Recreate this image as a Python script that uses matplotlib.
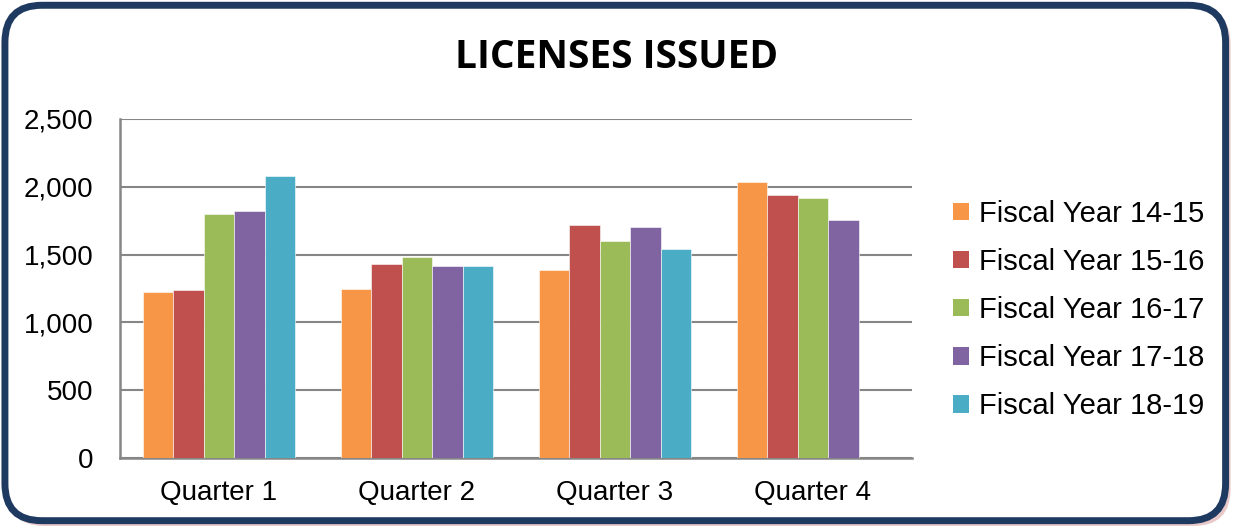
import numpy as np
import matplotlib.pyplot as plt
from matplotlib.patches import FancyBboxPatch, Patch

quarters = ["Quarter 1", "Quarter 2", "Quarter 3", "Quarter 4"]
fy1415 = [1225, 1245, 1385, 2035]
fy1516 = [1240, 1430, 1718, 1940]
fy1617 = [1800, 1482, 1600, 1918]
fy1718 = [1822, 1416, 1703, 1755]
fy1819 = [2080, 1416, 1541, np.nan]

series = ["Fiscal Year 14-15", "Fiscal Year 15-16", "Fiscal Year 16-17",
          "Fiscal Year 17-18", "Fiscal Year 18-19"]
colors = ["#F79646", "#C0504D", "#9BBB59", "#8064A2", "#4BACC6"]
values = [fy1415, fy1516, fy1617, fy1718, fy1819]

plt.rcParams['font.family'] = ['Liberation Sans', 'DejaVu Sans']

fig = plt.figure(figsize=(12.33, 5.27), dpi=100)

# rounded frame with a soft shadow
shadow = FancyBboxPatch((0.006, 0.002), 0.992, 0.984,
                        boxstyle="round,pad=0,rounding_size=0.03",
                        transform=fig.transFigure, facecolor="#E8C8C8",
                        edgecolor="none", zorder=0,
                        mutation_aspect=1233 / 527)
fig.patches.append(shadow)
frame = FancyBboxPatch((0.004, 0.012), 0.990, 0.978,
                       boxstyle="round,pad=0,rounding_size=0.03",
                       transform=fig.transFigure, facecolor="white",
                       edgecolor="#1F3A60", linewidth=5, zorder=1,
                       mutation_aspect=1233 / 527)
fig.patches.append(frame)

ax = fig.add_axes([120 / 1233, 1 - 458 / 527, (912 - 120) / 1233, (458 - 119) / 527])
ax.set_zorder(2)
ax.patch.set_alpha(0)

x = np.arange(len(quarters))
w = 0.154
for i, (name, vals, c) in enumerate(zip(series, values, colors)):
    ax.bar(x + (i - 2) * w, vals, width=w, color=c, label=name,
           edgecolor="white", linewidth=0.4, zorder=3)

ax.set_xlim(-0.5, 3.5)
ax.set_ylim(0, 2500)
ax.set_yticks(range(0, 2501, 500))
ax.set_yticklabels([f"{v:,}" for v in range(0, 2501, 500)])
ax.set_xticks(x)
ax.set_xticklabels(quarters)
ax.tick_params(axis="both", length=0, labelsize=20)
ax.tick_params(axis="y", pad=19)
ax.tick_params(axis="x", pad=16)
ax.grid(axis="y", color="#868686", linewidth=1.5, zorder=1)
for s in ["top", "right"]:
    ax.spines[s].set_visible(False)
for s in ["left", "bottom"]:
    ax.spines[s].set_color("#868686")
    ax.spines[s].set_linewidth(1.8)

handles = [Patch(facecolor=c, label=n) for n, c in zip(series, colors)]
fig.legend(handles=handles, loc="upper left", bbox_to_anchor=(941 / 1233, 1 - 188 / 527),
           frameon=False, fontsize=21, handlelength=0.55, handleheight=0.55,
           handletextpad=0.35, labelspacing=0.69, borderaxespad=0)

fig.text(617 / 1233, 1 - 58 / 527, "LICENSES ISSUED", ha="center", va="center",
         fontsize=28, fontweight="bold", family=["Open Sans", "DejaVu Sans"])

fig.savefig("out.png", dpi=100)
